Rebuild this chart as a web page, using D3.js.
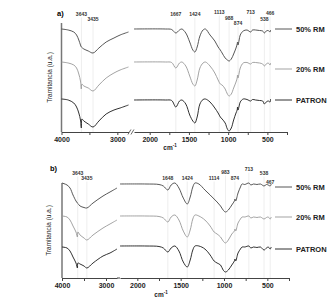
<!DOCTYPE html>
<html>
<head>
<meta charset="utf-8">
<script src="https://cdn.jsdelivr.net/npm/d3@7"></script>
<style>
body { margin: 0; background: #fff; }
svg { display: block; font-family: "Liberation Sans", Arial, sans-serif; }
</style>
</head>
<body>
<svg width="332" height="300"></svg>
<script>
// FTIR spectra, transmittance in a.u. (stacked)
const seriesNames = ["50% RM", "20% RM", "PATRON"];
const seriesColors = ["#444444", "#999999", "#1a1a1a"];

// panel a
const peaksA = [3643, 3435, 1667, 1424, 1113, 988, 874, 713, 538, 466];
const wnLeftA = [4000, 3880, 3780, 3730, 3690, 3660, 3645, 3635, 3600, 3520, 3435, 3330, 3200, 3060, 2950, 2800];
const rm50LeftA = [103, 102, 100, 97, 92, 87, 85, 84.5, 83, 81, 79, 84, 90, 94, 97, 100];
const rm20LeftA = [70, 69, 67, 64, 58, 51, 43, 48, 46, 44, 41, 47, 54, 59, 62, 65];
const patronLeftA = [33, 32, 29, 25, 19, 12, 4, 13, 11, 8, 5, 11, 18, 22, 24, 27];
const wnRightA = [2200, 1800, 1720, 1667, 1620, 1590, 1540, 1490, 1450, 1424, 1395, 1360, 1320, 1290, 1231, 1170, 1128, 1100, 1077, 1038, 1010, 988, 960, 930, 900, 885, 880, 874, 860, 846, 808, 760, 713, 690, 650, 600, 560, 538, 515, 490, 466, 460];
const rm50RightA = [103, 103, 102.5, 99, 102, 103, 99, 90, 82, 80, 85, 96, 102, 103, 97, 91, 85, 82, 79, 74, 72, 71, 73, 78, 84, 88, 90, 87, 92, 97, 101, 102, 100, 102, 102, 101.5, 101, 99, 101, 101.5, 100, 102];
const rm20RightA = [70, 70, 69.5, 64, 69, 70, 66, 56, 48, 46, 52, 64, 69, 70, 66, 59, 52, 48, 47, 43, 38, 36, 38, 44, 50, 54, 57, 54, 59, 64, 69, 69.5, 68, 69.5, 69.5, 69, 68, 66, 68, 69, 67, 69];
const patronRightA = [32, 32, 31.5, 25, 31, 32, 28, 17, 11, 9, 15, 28, 32.5, 33, 30, 24, 19, 15, 13, 9, 3, 1, 4, 12, 19, 22, 25, 22, 26, 30, 33, 32.5, 31, 32.5, 32, 31.5, 31, 28, 30, 31, 30, 33];

// panel b
const peaksB = [3643, 3435, 1648, 1424, 1114, 983, 874, 713, 538, 467];
const wnLeftB = [4000, 3886, 3818, 3750, 3682, 3650, 3638, 3590, 3500, 3435, 3295, 3068, 2909, 2750];
const rm50LeftB = [95, 93, 90, 83, 77, 75, 74.5, 72, 70.5, 70, 75, 82, 86, 90];
const rm20LeftB = [62, 61, 58, 52, 46, 41, 46, 43, 40, 38, 43, 50, 54, 58];
const patronLeftB = [31, 30, 27, 21, 15, 10, 15, 14, 12, 10, 15, 22, 25, 29];
const wnRightB = [2200, 1900, 1750, 1700, 1648, 1610, 1567, 1520, 1470, 1424, 1390, 1360, 1335, 1290, 1220, 1160, 1114, 1080, 1040, 1010, 983, 950, 910, 880, 874, 865, 838, 810, 792, 760, 713, 690, 660, 620, 580, 538, 510, 490, 467, 455];
const rm50RightB = [94, 94, 93.5, 92, 88, 93, 95, 90, 80, 74, 81, 91, 95, 94, 88, 83, 79, 76, 72, 68, 66, 68, 73, 77, 79, 77, 85, 91, 94, 93.5, 95, 93, 94, 93.5, 94, 92, 93.5, 93, 92, 94];
const rm20RightB = [62, 62, 61.5, 60, 56, 61, 63, 58, 47, 41, 48, 59, 63, 62, 58, 52, 46, 44, 41, 37, 35, 38, 44, 47, 49, 47, 55, 59, 61, 61, 62, 60, 61, 60.5, 61, 59, 60.5, 61, 59, 61];
const patronRightB = [32, 32, 31.5, 30, 26, 30, 32, 27, 16, 11, 18, 28, 32, 32, 29, 23, 17, 15, 13, 8, 6, 8, 13, 17, 19, 17, 25, 29, 31, 31, 32, 30, 31, 30.5, 31, 28, 30, 31, 29, 31];

const leftTicks = [4000, 3500, 3000];
const rightTicks = [2000, 1750, 1500, 1250, 1000, 750, 500, 250];

const svg = d3.select("svg");

const panels = [
  {
    letter: "a)", letterX: 57, letterY: 15.5,
    leftDomain: [4000, 2800], leftRange: [61.5, 128.5],
    rightRange: [134, 287],
    top: 23, bottom: 132, yMax: 109,
    peaks: peaksA, peakY: [16, 21, 16, 16, 14, 20, 25, 14, 21, 15],
    leftWn: wnLeftA, left: [rm50LeftA, rm20LeftA, patronLeftA],
    rightWn: wnRightA, right: [rm50RightA, rm20RightA, patronRightA],
    legendY: [29, 69, 100],
    breakMark: true,
    ylabelX: 52, cmX: 170, cmY: 149.5
  },
  {
    letter: "b)", letterX: 50, letterY: 170.5,
    leftDomain: [4000, 2750], leftRange: [62, 117],
    rightRange: [120, 289],
    top: 183, bottom: 278, yMax: 95,
    peaks: peaksB, peakY: [175, 180, 180, 180, 180, 174, 180, 171, 175, 184],
    leftWn: wnLeftB, left: [rm50LeftB, rm20LeftB, patronLeftB],
    rightWn: wnRightB, right: [rm50RightB, rm20RightB, patronRightB],
    legendY: [187, 217, 249],
    breakMark: false,
    ylabelX: 51, cmX: 161, cmY: 297
  }
];

panels.forEach(drawPanel);

function drawPanel(p) {
  const g = svg.append("g");

  const xL = d3.scaleLinear().domain(p.leftDomain).range(p.leftRange);
  const xR = d3.scaleLinear().domain([2200, 250]).range(p.rightRange);
  const y = d3.scaleLinear().domain([0, p.yMax]).range([p.bottom, p.top]);
  const xOf = w => w > 2500 ? xL(w) : xR(w);

  // peak guide lines + labels
  p.peaks.forEach((pk, i) => {
    const x = xOf(pk);
    g.append("line")
      .attr("x1", x).attr("x2", x)
      .attr("y1", p.peakY[i] + 1.5).attr("y2", p.bottom)
      .attr("stroke", "#e2e2e2")
      .attr("stroke-width", 0.6);
    g.append("text")
      .attr("x", x)
      .attr("y", p.peakY[i])
      .attr("text-anchor", "middle")
      .attr("font-size", 5)
      .attr("font-weight", "bold")
      .attr("fill", "#333")
      .text(pk);
  });

  // axes
  const fmt = d => d % 500 === 0 && d !== 250 && d !== 3500 ? d : "";
  [[xL, leftTicks], [xR, rightTicks]].forEach(([sc, tv]) => {
    const ax = g.append("g")
      .attr("transform", `translate(0,${p.bottom})`)
      .call(d3.axisBottom(sc).tickValues(tv).tickSize(3).tickSizeOuter(0).tickFormat(fmt));
    ax.attr("font-size", 7).attr("font-family", null).attr("font-weight", "bold");
    ax.select(".domain").attr("stroke", "#444").attr("stroke-width", 1);
    ax.selectAll(".tick line").attr("stroke", "#444");
    ax.selectAll(".tick text").attr("fill", "#222").attr("dy", "0.95em").attr("y", 3);
  });

  if (p.breakMark) {
    const bx = (p.leftRange[1] + p.rightRange[0]) / 2;
    [-1.8, 1.2].forEach(o => {
      g.append("line")
        .attr("x1", bx + o - 1.5).attr("x2", bx + o + 1.5)
        .attr("y1", p.bottom + 2.5).attr("y2", p.bottom - 2.5)
        .attr("stroke", "#444").attr("stroke-width", 0.8);
    });
  } else {
    g.append("line")
      .attr("x1", p.leftRange[1]).attr("x2", p.rightRange[0])
      .attr("y1", p.bottom).attr("y2", p.bottom)
      .attr("stroke", "#444");
  }

  g.append("line")
    .attr("x1", p.leftRange[0]).attr("x2", p.leftRange[0])
    .attr("y1", p.top).attr("y2", p.bottom)
    .attr("stroke", "#777")
    .attr("stroke-width", 1.5);

  // spectra
  const mk = sc => d3.line()
    .x(d => sc(d[0]))
    .y(d => y(d[1]))
    .curve(d3.curveCatmullRom.alpha(0.5));

  seriesNames.forEach((name, i) => {
    g.append("path")
      .datum(p.leftWn.map((w, j) => [w, p.left[i][j]]))
      .attr("fill", "none")
      .attr("stroke", seriesColors[i])
      .attr("stroke-width", 0.9)
      .attr("d", mk(xL));
    g.append("path")
      .datum(p.rightWn.map((w, j) => [w, p.right[i][j]]))
      .attr("fill", "none")
      .attr("stroke", seriesColors[i])
      .attr("stroke-width", 0.9)
      .attr("d", mk(xR));

    // legend
    g.append("line")
      .attr("x1", 275).attr("x2", 292)
      .attr("y1", p.legendY[i]).attr("y2", p.legendY[i])
      .attr("stroke", seriesColors[i])
      .attr("stroke-width", 0.9);
    g.append("text")
      .attr("x", 296)
      .attr("y", p.legendY[i])
      .attr("dy", "0.35em")
      .attr("font-size", 7.5)
      .attr("font-weight", "bold")
      .attr("fill", "#222")
      .text(name);
  });

  // labels
  g.append("text")
    .attr("x", p.letterX).attr("y", p.letterY)
    .attr("font-size", 7.5).attr("font-weight", "bold")
    .text(p.letter);

  g.append("text")
    .attr("transform", `translate(${p.ylabelX},${(p.top + p.bottom) / 2}) rotate(-90)`)
    .attr("text-anchor", "middle")
    .attr("font-size", 6.5)
    .attr("fill", "#222")
    .text("Tramitancia (u.a.)");

  const cm = g.append("text")
    .attr("x", p.cmX).attr("y", p.cmY)
    .attr("text-anchor", "middle")
    .attr("font-size", 6.5)
    .attr("font-weight", "bold")
    .attr("fill", "#222");
  cm.append("tspan").text("cm");
  cm.append("tspan").attr("dy", -3).attr("font-size", 4.5).text("-1");
}
</script>
</body>
</html>
